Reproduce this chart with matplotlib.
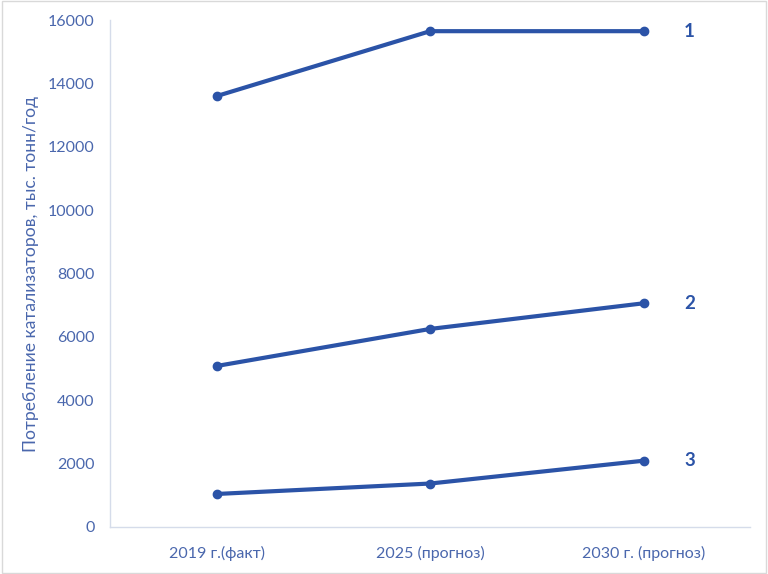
import matplotlib.pyplot as plt
from matplotlib.patches import Rectangle

categories = ["2019 г.(факт)", "2025 (прогноз)", "2030 г. (прогноз)"]
series_1 = [13600, 15650, 15650]
series_2 = [5080, 6250, 7060]
series_3 = [1040, 1370, 2090]
series_names = ["1", "2", "3"]

line_color = "#2b53a7"
text_color = "#4a67ad"
axis_color = "#d5dcea"

plt.rcParams["font.family"] = ["Lato", "DejaVu Sans"]

fig = plt.figure(figsize=(7.68, 5.74), dpi=100)
ax = fig.add_axes([0.143, 0.082, 0.834, 0.883])

x = range(len(categories))
for vals, name in zip([series_1, series_2, series_3], series_names):
    ax.plot(x, vals, color=line_color, lw=3, marker="o", markersize=6,
            solid_capstyle="round")
    ax.annotate(name, (x[-1], vals[-1]), xytext=(33, 0), textcoords="offset points",
                ha="center", va="center", fontsize=13.5, fontweight="bold",
                color=line_color)

ax.set_xlim(-0.5, 2.5)
ax.set_ylim(0, 16000)
ax.set_yticks(range(0, 16001, 2000))
ax.set_xticks(list(x))
ax.set_xticklabels(categories)
ax.tick_params(length=0, labelsize=11.5, labelcolor=text_color)
ax.tick_params(axis="x", pad=14)
ax.tick_params(axis="y", pad=11)

for side in ["top", "right"]:
    ax.spines[side].set_visible(False)
for side in ["left", "bottom"]:
    ax.spines[side].set_color(axis_color)
    ax.spines[side].set_linewidth(1)

ax.set_ylabel("Потребление катализаторов, тыс. тонн/год", fontsize=12.6,
              color=text_color)
ax.yaxis.set_label_coords(-0.11, 0.5)

fig.patches.append(Rectangle((0.002, 0.002), 0.996, 0.996, transform=fig.transFigure,
                             fill=False, edgecolor="#d9d9d9", lw=1))

fig.savefig("out.png", dpi=100)
